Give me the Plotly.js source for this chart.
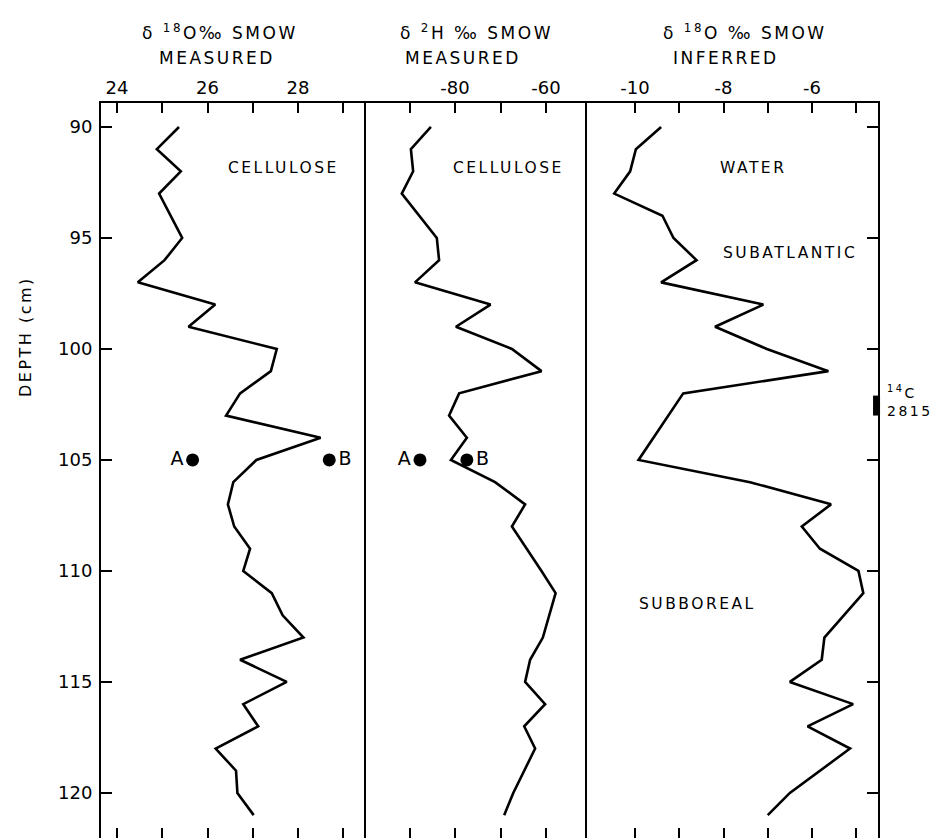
<!DOCTYPE html>
<html><head><meta charset="utf-8">
<script src="https://cdn.plot.ly/plotly-3.0.1.min.js"></script>
<style>
html,body{margin:0;padding:0;background:#fff;}
#chart{width:934px;height:838px;}
.annotation-text{letter-spacing:2.5px;}
</style></head><body><div id="chart"></div>
<script>
// ---- data ----
const depthCellO = [90,91,92,93,95,96,97,98,99,100,101,102,103,104,105,106,107,108,109,110,111,112,113,114,115,116,117,118,119,120,121];
const cellO18 = [25.37,24.88,25.41,24.93,25.44,25.05,24.46,26.17,25.58,27.53,27.40,26.72,26.41,28.50,27.08,26.57,26.45,26.59,26.94,26.79,27.42,27.66,28.12,26.72,27.75,26.79,27.12,26.18,26.63,26.66,27.02];

const depthCellH = [90,91,92,93,95,96,97,98,99,100,101,102,103,104,105,106,107,108,110,111,113,114,115,116,117,118,120,121];
const cellH2 = [-85.3,-89.7,-89.2,-91.7,-84.0,-83.5,-88.8,-72.2,-79.8,-67.5,-61.0,-79.1,-81.3,-77.4,-80.9,-71.2,-64.6,-67.5,-61.0,-57.9,-60.7,-63.5,-64.6,-60.2,-64.8,-62.4,-67.2,-69.2];

const depthWaterO = [90,91,92,93,94,95,96,97,98,99,100,101,102,105,106,107,108,109,110,111,113,114,115,116,117,118,120,121];
const waterO18 = [-9.41,-9.98,-10.11,-10.47,-9.38,-9.13,-8.61,-9.41,-7.10,-8.19,-7.02,-5.63,-8.91,-9.92,-7.40,-5.57,-6.23,-5.82,-4.95,-4.84,-5.72,-5.78,-6.50,-5.07,-6.10,-5.14,-6.50,-7.00];

const abLabels = ['A','B'];
const abDepth = [105,105];
const abCellO18 = [25.67,28.69];
const abCellH2 = [-87.7,-77.4];

const c14Depth = [102.1,103.0];
const c14Age = '2815';

const depthTicks = [90,95,100,105,110,115,120];
const oTicks = [24,26,28];
const oMinor = [25,27,29];
const hTicks = [-80,-60];
const hMinor = [-90,-70];
const wTicks = [-10,-8,-6];
const wMinor = [-9,-7,-5];

// ---- layout geometry ----
const W=934,H=838,L=101,R=56,T=103,B=0;
const pw=W-L-R, ph=H-T-B;
const xp = px => (px-L)/pw;
const yp = py => (H-B-py)/ph;
const d1=[0,xp(364)], d2=[xp(364),xp(587)], d3=[xp(587),1];
const yRange=[122.03,88.92];
const black='#000';
const tickFont={family:'DejaVu Sans',size:18,color:black};

function xax(domain,range,tv,minorVals,anchor){
  return {domain,range,anchor,side:'top',tickmode:'array',tickvals:tv,ticktext:tv.map(String),
    ticks:'inside',ticklen:10,tickwidth:2,tickcolor:black,
    minor:{tickmode:'array',tickvals:minorVals,ticks:'inside',ticklen:10,tickwidth:2,tickcolor:black,showgrid:false},
    showline:true,linewidth:2,linecolor:black,
    mirror:'ticks',showgrid:false,zeroline:false,tickfont:tickFont,fixedrange:true};
}
function yax(anchor,extra){
  return Object.assign({domain:[0,1],range:yRange,anchor,showline:true,linewidth:2,linecolor:black,
    mirror:true,showgrid:false,zeroline:false,fixedrange:true,tickmode:'array',tickvals:depthTicks,
    tickfont:tickFont,tickcolor:black,tickwidth:2},extra);
}

const lineStyle={color:black,width:2.6};
const abText={family:'DejaVu Sans',size:19,color:black};
const traces=[
  {x:cellO18,y:depthCellO,xaxis:'x',yaxis:'y',mode:'lines',line:lineStyle,hoverinfo:'skip'},
  {x:cellH2,y:depthCellH,xaxis:'x2',yaxis:'y2',mode:'lines',line:lineStyle,hoverinfo:'skip'},
  {x:waterO18,y:depthWaterO,xaxis:'x3',yaxis:'y3',mode:'lines',line:lineStyle,hoverinfo:'skip'},
  {x:abCellO18,y:abDepth,xaxis:'x',yaxis:'y',mode:'markers+text',text:abLabels,
   textposition:['middle left','middle right'],marker:{color:black,size:13},
   textfont:abText,cliponaxis:false,hoverinfo:'skip'},
  {x:abCellH2,y:abDepth,xaxis:'x2',yaxis:'y2',mode:'markers+text',text:abLabels,
   textposition:['middle left','middle right'],marker:{color:black,size:13},
   textfont:abText,cliponaxis:false,hoverinfo:'skip'}
];

function ann(text,x,y,size,opts){
  return Object.assign({text,x,y,xref:'paper',yref:'paper',showarrow:false,xanchor:'center',yanchor:'middle',
    font:{family:'DejaVu Sans',size:size,color:black}},opts||{});
}

const layout={
  width:W,height:H,margin:{l:L,r:R,t:T,b:B,pad:0},
  paper_bgcolor:'#fff',plot_bgcolor:'#fff',showlegend:false,
  xaxis:xax(d1,[23.646,29.458],oTicks,oMinor,'y'),
  xaxis2:xax(d2,[-100,-51],hTicks,hMinor,'y2'),
  xaxis3:xax(d3,[-11.085,-4.508],wTicks,wMinor,'y3'),
  yaxis:yax('x',{ticks:'inside',ticklen:11,showticklabels:true,ticklabelstandoff:3}),
  yaxis2:yax('x2',{ticks:'',showticklabels:false,showline:false,mirror:false}),
  yaxis3:yax('x3',{side:'right',ticks:'inside',ticklen:11,showticklabels:false}),
  shapes:[
    {type:'rect',xref:'x3 domain',yref:'y3',x0:0.983,x1:1.007,y0:c14Depth[0],y1:c14Depth[1],
     fillcolor:black,line:{width:0},layer:'above'}
  ],
  annotations:[
    ann('δ <sup>18</sup>O‰ SMOW',xp(220),yp(32),17),
    ann('MEASURED',xp(217),yp(58),17),
    ann('δ <sup>2</sup>H ‰ SMOW',xp(476),yp(32),17),
    ann('MEASURED',xp(463),yp(58),17),
    ann('δ <sup>18</sup>O ‰ SMOW',xp(745),yp(32),17),
    ann('INFERRED',xp(726),yp(58),17),
    ann('DEPTH (cm)',xp(25),yp(337),16,{textangle:-90}),
    ann('CELLULOSE',xp(283),yp(168),15.5),
    ann('CELLULOSE',xp(508),yp(168),15.5),
    ann('WATER',xp(753),yp(168),15.5),
    ann('SUBATLANTIC',xp(790),yp(253),15.5),
    ann('SUBBOREAL',xp(697),yp(604),15.5),
    {text:'<sup>14</sup>C<br>'+c14Age,x:xp(885),xref:'paper',y:(c14Depth[0]+c14Depth[1])/2-0.2,yref:'y3',
     showarrow:false,xanchor:'left',yanchor:'middle',align:'left',
     font:{family:'DejaVu Sans',size:14,color:black}}
  ]
};

Plotly.newPlot('chart',traces,layout,{displayModeBar:false,staticPlot:true});
</script></body></html>
